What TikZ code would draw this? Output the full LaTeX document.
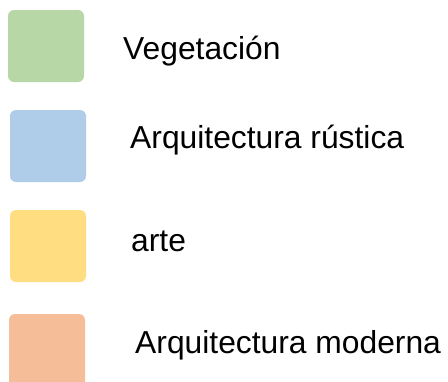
\documentclass[tikz,border=0pt]{standalone}
\usepackage{fontspec}
\setmainfont{Liberation Sans}
\definecolor{cgreen}{RGB}{184,215,166}
\definecolor{cblue}{RGB}{175,204,233}
\definecolor{cyellow}{RGB}{255,221,128}
\definecolor{corange}{RGB}{245,190,152}
\begin{document}
\begin{tikzpicture}[x=1pt,y=-1pt,
  swatch/.style={rounded corners=6pt, draw=none},
  lbl/.style={anchor=base west, inner sep=0pt, font=\fontsize{31.8}{37}\selectfont}]
\useasboundingbox (0,0) rectangle (448,381);
\clip (0,0) rectangle (448,381);
\fill[white] (0,0) rectangle (448,381);
\fill[swatch, cgreen] (8,10) rectangle (84,82);
\fill[swatch, cblue] (10,110) rectangle (86,182);
\fill[swatch, cyellow] (10,210) rectangle (86,282);
\fill[swatch, corange] (9,314) rectangle (85,388);
\node[lbl] (t1) at (123,59) {Vegetación};
\node[lbl] (t2) at (130,148) {Arquitectura rústica};
\node[lbl] (t3) at (131,251) {arte};
\node[lbl] (t4) at (135,353) {Arquitectura moderna};
\end{tikzpicture}
\end{document}
